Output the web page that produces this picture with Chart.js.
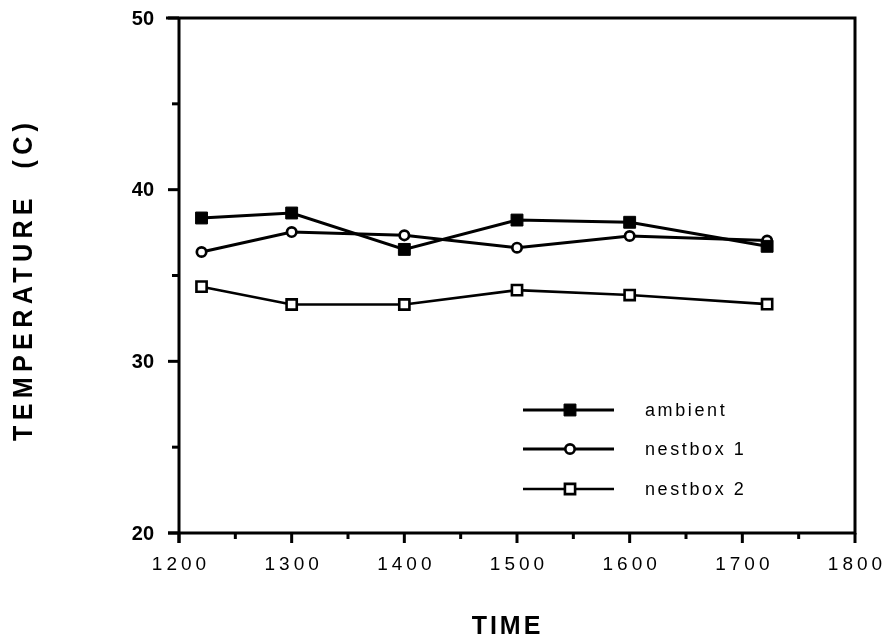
<!DOCTYPE html>
<html>
<head>
<meta charset="utf-8">
<script src="https://cdn.jsdelivr.net/npm/chart.js@4"></script>
<style>
  html, body { margin: 0; padding: 0; background: #fff; }
  #wrap { width: 884px; height: 637px; }
</style>
</head>
<body>
<div id="wrap"><canvas id="tempChart" width="884" height="637"></canvas></div>
<script>
// --- DATOS ---
const timeValues = [1220, 1300, 1400, 1500, 1600, 1722];
const ambient   = [38.35, 38.64, 36.52, 38.23, 38.1, 36.7];
const nestbox1  = [36.37, 37.53, 37.34, 36.62, 37.3, 37.04];
const nestbox2  = [34.35, 33.31, 33.31, 34.15, 33.86, 33.33];
const seriesNames = ['ambient', 'nestbox 1', 'nestbox 2'];
const xTickLabels = ['1200', '1300', '1400', '1500', '1600', '1700', '1800'];
const yTickLabels = ['20', '30', '40', '50'];

const FONT = '"Liberation Sans", Arial, Helvetica, sans-serif';

function toPoints(values) {
    return values.map((v, i) => ({ x: timeValues[i], y: v }));
}

// texto con espaciado, alineado en (x, y)
function spacedText(ctx, text, x, y, spacing, align) {
    ctx.letterSpacing = spacing + 'px';
    const w = ctx.measureText(text).width - spacing;
    let start = x;
    if (align === 'center') start = x - w / 2;
    if (align === 'right') start = x - w;
    ctx.textAlign = 'left';
    ctx.fillText(text, start, y);
    ctx.letterSpacing = '0px';
}

// --- EJES, MARCO Y TITULOS ---
const framePlugin = {
    id: 'framePlugin',
    beforeDatasetsDraw(chart) {
        const { ctx, chartArea: a, scales: { x, y } } = chart;
        ctx.save();
        ctx.strokeStyle = '#000';
        ctx.fillStyle = '#000';
        ctx.lineWidth = 3;
        ctx.lineCap = 'butt';

        // marco
        ctx.beginPath();
        ctx.moveTo(a.left - 13, a.top);
        ctx.lineTo(a.right, a.top);
        ctx.lineTo(a.right, a.bottom);
        ctx.moveTo(a.left, a.top - 1.5);
        ctx.lineTo(a.left, a.bottom + 10);
        ctx.moveTo(a.left - 11, a.bottom);
        ctx.lineTo(a.right + 1.5, a.bottom);
        ctx.stroke();

        // ticks eje y
        y.ticks.forEach(t => {
            const py = y.getPixelForValue(t.value);
            const len = t.value % 10 === 0 ? 11 : 7;
            ctx.beginPath();
            ctx.moveTo(a.left - len, py);
            ctx.lineTo(a.left, py);
            ctx.stroke();
        });
        // ticks eje x
        x.ticks.forEach(t => {
            const px = x.getPixelForValue(t.value);
            const len = t.value % 100 === 0 ? 10 : 6;
            ctx.beginPath();
            ctx.moveTo(px, a.bottom);
            ctx.lineTo(px, a.bottom + len);
            ctx.stroke();
        });

        // etiquetas y
        ctx.font = 'bold 20px ' + FONT;
        ctx.textBaseline = 'middle';
        yTickLabels.forEach(lbl => {
            spacedText(ctx, lbl, a.left - 25, y.getPixelForValue(+lbl) + 1, 0, 'right');
        });
        // etiquetas x
        ctx.font = '19px ' + FONT;
        ctx.textBaseline = 'top';
        xTickLabels.forEach(lbl => {
            spacedText(ctx, lbl, x.getPixelForValue(+lbl), a.bottom + 22, 4, 'center');
        });

        // titulo x
        ctx.font = 'bold 25px ' + FONT;
        ctx.textBaseline = 'middle';
        spacedText(ctx, 'TIME', (a.left + a.right) / 2 - 11, 627, 3, 'center');

        // titulo y (rotado)
        ctx.save();
        ctx.translate(23, 282);
        ctx.rotate(-Math.PI / 2);
        ctx.scale(0.9, 1);
        ctx.font = 'bold 28px ' + FONT;
        ctx.textBaseline = 'middle';
        const yTitle = 'TEMPERATURE  (C)';
        const w0 = ctx.measureText(yTitle).width;
        const sp = (318 / 0.9 - w0) / (yTitle.length - 1);
        spacedText(ctx, yTitle, 0, 1, sp, 'center');
        ctx.restore();

        ctx.restore();
    },
    afterDraw(chart) {
        const { ctx } = chart;
        const rows = [410, 449, 489];
        ctx.save();
        chart.data.datasets.forEach((ds, i) => {
            const ly = rows[i];
            ctx.strokeStyle = '#000';
            ctx.lineWidth = ds.borderWidth;
            ctx.beginPath();
            ctx.moveTo(523, ly);
            ctx.lineTo(614, ly);
            ctx.stroke();

            ctx.fillStyle = ds.pointBackgroundColor;
            ctx.lineWidth = ds.pointBorderWidth;
            ctx.beginPath();
            if (ds.pointStyle === 'circle') {
                ctx.arc(570, ly, ds.pointRadius, 0, Math.PI * 2);
            } else {
                const s = ds.pointRadius * Math.SQRT1_2;
                ctx.rect(570 - s, ly - s, 2 * s, 2 * s);
            }
            ctx.fill();
            ctx.stroke();

            ctx.fillStyle = '#000';
            ctx.font = '18px ' + FONT;
            ctx.textBaseline = 'middle';
            spacedText(ctx, seriesNames[i], 645, ly + 1, 2.6, 'left');
        });
        ctx.restore();
    }
};

// --- GRAFICO ---
function createChart() {
    const ctx = document.getElementById('tempChart').getContext('2d');
    const common = {
        borderColor: '#000',
        pointBorderColor: '#000',
        fill: false,
        tension: 0
    };
    return new Chart(ctx, {
        type: 'line',
        data: {
            datasets: [
                { ...common, label: seriesNames[0], data: toPoints(ambient), borderWidth: 3,
                  pointStyle: 'rect', pointRadius: 8.4, pointBackgroundColor: '#000', pointBorderWidth: 1 },
                { ...common, label: seriesNames[1], data: toPoints(nestbox1), borderWidth: 3,
                  pointStyle: 'circle', pointRadius: 4.7, pointBackgroundColor: '#fff', pointBorderWidth: 2.7 },
                { ...common, label: seriesNames[2], data: toPoints(nestbox2), borderWidth: 2.6,
                  pointStyle: 'rect', pointRadius: 7.2, pointBackgroundColor: '#fff', pointBorderWidth: 2.6 }
            ]
        },
        options: {
            responsive: false,
            animation: false,
            devicePixelRatio: 1,
            layout: { padding: { top: 18, right: 29, left: 0, bottom: 0 } },
            scales: {
                x: {
                    type: 'linear', min: 1200, max: 1800,
                    ticks: { stepSize: 50, display: false },
                    grid: { display: false }, border: { display: false },
                    afterFit: s => { s.height = 104; }
                },
                y: {
                    min: 20, max: 50,
                    ticks: { stepSize: 5, display: false },
                    grid: { display: false }, border: { display: false },
                    afterFit: s => { s.width = 179; }
                }
            },
            plugins: {
                legend: { display: false },
                tooltip: { enabled: false }
            }
        },
        plugins: [framePlugin]
    });
}

createChart();
</script>
</body>
</html>
